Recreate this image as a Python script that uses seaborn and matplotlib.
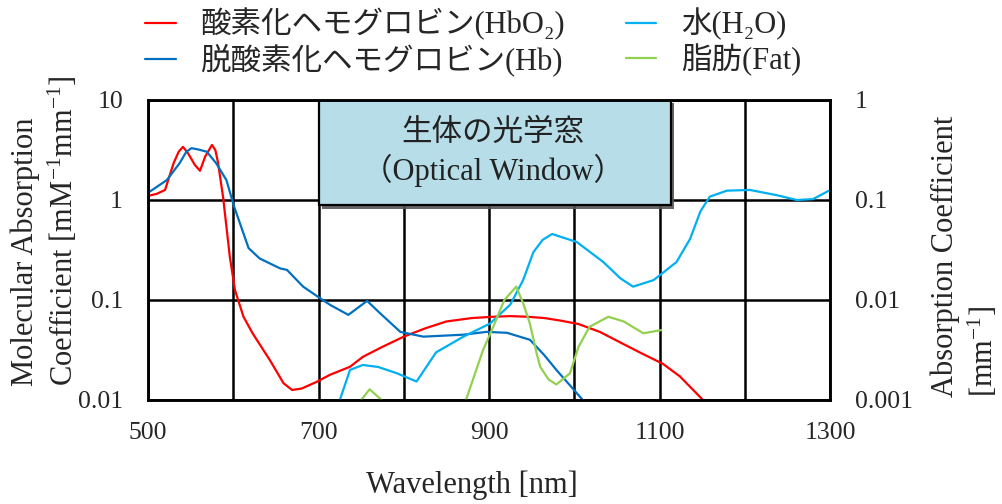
import matplotlib
matplotlib.use("Agg")
import matplotlib.pyplot as plt
import matplotlib.patheffects as pe
from matplotlib.patches import Rectangle
import seaborn as sns

# --- spectra -------------------------------------------------------------
# molar absorption of haemoglobin [mM^-1 mm^-1] (left axis)
hbo2_wl = [500, 510, 520, 530, 536, 541, 547, 555, 561, 567, 575, 579, 582, 588,
           596, 602, 612, 623, 643, 659, 669, 680, 698, 713, 737, 752, 775, 800,
           825, 850, 880, 905, 925, 945, 965, 985, 1005, 1030, 1057, 1080, 1104,
           1124, 1150]
hbo2 = [1.10, 1.15, 1.26, 2.33, 3.04, 3.40, 2.93, 2.24, 1.96, 2.71, 3.55, 3.16,
        2.40, 1.08, 0.27, 0.126, 0.068, 0.046, 0.025, 0.0147, 0.0126, 0.013,
        0.0152, 0.0178, 0.0215, 0.027, 0.034, 0.043, 0.052, 0.061, 0.066, 0.068,
        0.069, 0.068, 0.066, 0.062, 0.0575, 0.048, 0.0365, 0.029, 0.023, 0.0172,
        0.0102]

hb_wl = [500, 522, 537, 545, 551, 559, 569, 580, 592, 601, 608, 618, 631, 655,
         663, 682, 702, 714, 735, 757, 772, 796, 823, 870, 897, 921, 948, 965,
         979, 995, 1010]
hb = [1.18, 1.58, 2.33, 3.04, 3.30, 3.20, 3.04, 2.33, 1.58, 0.86, 0.58, 0.33,
      0.26, 0.207, 0.20, 0.136, 0.104, 0.089, 0.071, 0.098, 0.074, 0.048, 0.043,
      0.045, 0.048, 0.047, 0.040, 0.028, 0.020, 0.014, 0.010]

# absorption coefficient of water and fat [mm^-1] (right axis)
water_wl = [725, 737, 752, 770, 792, 815, 838, 870, 901, 925, 940, 952, 963, 974,
            1003, 1034, 1054, 1069, 1093, 1105, 1120, 1136, 1148, 1159, 1179,
            1206, 1237, 1261, 1280, 1298]
water = [0.0010, 0.0020, 0.00224, 0.00214, 0.00185, 0.00153, 0.0030, 0.0043,
         0.0058, 0.0090, 0.0158, 0.030, 0.040, 0.0457, 0.038, 0.024, 0.0165,
         0.0136, 0.0158, 0.019, 0.024, 0.041, 0.077, 0.108, 0.124, 0.126, 0.112,
         0.100, 0.102, 0.123]

fat_bump_wl = [750, 760, 774]
fat_bump = [0.0010, 0.00128, 0.0010]
fat_wl = [873, 893, 905, 918, 932, 940, 948, 956, 960, 970, 979, 995, 1005, 1018,
          1040, 1058, 1081, 1102]
fat = [0.0010, 0.00316, 0.0054, 0.0100, 0.0136, 0.0093, 0.0058, 0.0029, 0.00215,
       0.0016, 0.00143, 0.00185, 0.0034, 0.0054, 0.0068, 0.0061, 0.00465, 0.0050]

labels = ["酸素化ヘモグロビン(HbO₂)", "脱酸素化ヘモグロビン(Hb)", "水(H₂O)", "脂肪(Fat)"]
colors = ["#FF0000", "#0070C0", "#00B0F0", "#92D050"]

x_ticks = [500, 600, 700, 800, 900, 1000, 1100, 1200, 1300]
x_ticklabels = ["500", "", "700", "", "900", "", "1100", "", "1300"]
left_ticks = [0.01, 0.1, 1, 10]
left_ticklabels = ["0.01", "0.1", "1", "10"]
right_ticks = [0.001, 0.01, 0.1, 1]
right_ticklabels = ["0.001", "0.01", "0.1", "1"]

window_range = (700, 1113)
window_title = "生体の光学窓\n（Optical Window）"

# --- style ---------------------------------------------------------------
sns.set_style("white")
plt.rcParams["font.family"] = ["Liberation Serif", "Noto Sans CJK JP", "DejaVu Serif"]
plt.rcParams["mathtext.fontset"] = "custom"
plt.rcParams["mathtext.rm"] = "Liberation Serif"
plt.rcParams["mathtext.it"] = "Liberation Serif:italic"
plt.rcParams["mathtext.bf"] = "Liberation Serif:bold"
plt.rcParams["axes.unicode_minus"] = False

fig = plt.figure(figsize=(10.02, 5.04), dpi=100)
ax = fig.add_axes([148 / 1002, 1 - 400 / 504, 682 / 1002, 300 / 504])
ax2 = ax.twinx()

lw = 1.6
sns.lineplot(x=hbo2_wl, y=hbo2, ax=ax, color=colors[0], lw=lw, estimator=None, legend=False)
sns.lineplot(x=hb_wl, y=hb, ax=ax, color=colors[1], lw=lw, estimator=None, legend=False)
sns.lineplot(x=water_wl, y=water, ax=ax2, color=colors[2], lw=lw, estimator=None, legend=False)
sns.lineplot(x=fat_wl, y=fat, ax=ax2, color=colors[3], lw=lw, estimator=None, legend=False)
sns.lineplot(x=fat_bump_wl, y=fat_bump, ax=ax2, color=colors[3], lw=lw, estimator=None, legend=False)

for a, lo, hi in ((ax, 0.01, 10), (ax2, 0.001, 1)):
    a.set_yscale("log")
    a.set_ylim(lo, hi)
    a.minorticks_off()
ax.set_xlim(500, 1300)

ax.set_xticks(x_ticks, x_ticklabels)
ax.set_yticks(left_ticks, left_ticklabels)
ax2.set_yticks(right_ticks, right_ticklabels)
ax.tick_params(axis="both", length=0, labelsize=18.5, pad=18)
ax.tick_params(axis="x", pad=16)
ax2.tick_params(axis="y", length=0, labelsize=18.5, pad=18)

ax.set_axisbelow(True)
ax.grid(True, which="major", color="black", lw=1.8)
ax2.grid(False)
for a in (ax, ax2):
    for s in a.spines.values():
        s.set_color("black")
        s.set_linewidth(1.8)

# optical window panel
box = Rectangle((window_range[0], 0.89), window_range[1] - window_range[0], 10 - 0.89,
                facecolor="#B7DDE8", edgecolor="black", lw=1.6, zorder=1.5,
                path_effects=[pe.SimplePatchShadow(offset=(2.5, -2.5), shadow_rgbFace="#555555", alpha=0.9),
                              pe.Normal()])
ax.add_patch(box)
ax.text(sum(window_range) / 2 - 2, 2.95, window_title, ha="center", va="center",
        fontsize=22, linespacing=1.25, color="#222222", zorder=3)

# axis titles
ax.set_xlabel("Wavelength [nm]", fontsize=22)
ax.xaxis.set_label_coords((472 - 148) / 682, -0.235)
fig.text(45 / 1002, 1 - 386 / 504,
         "Molecular Absorption\nCoefficient [mM$^{-1}$mm$^{-1}$]",
         rotation=90, ha="center", va="bottom", multialignment="left",
         fontsize=22, linespacing=1.25)
fig.text(965 / 1002, 1 - 397 / 504,
         "Absorption Coefficient\n[mm$^{-1}$]",
         rotation=90, ha="center", va="bottom", multialignment="left",
         fontsize=22, linespacing=1.25)

handles = [ax.lines[0], ax.lines[1], ax2.lines[0], ax2.lines[1]]
fig.legend(handles, labels, ncol=2, loc="upper left",
           bbox_to_anchor=(145 / 1002, 1 - 8 / 504), frameon=False,
           fontsize=22, handlelength=1.0, handletextpad=0.8, columnspacing=2.0,
           labelspacing=0.1, borderpad=0, borderaxespad=0)

fig.savefig("out.png", dpi=100, facecolor="white")
